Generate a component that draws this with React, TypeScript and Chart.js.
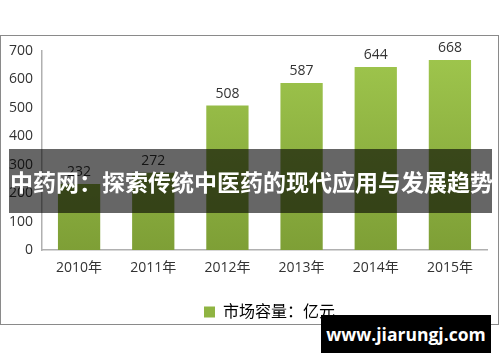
import React, { useEffect, useRef } from "react";
import { Chart, registerables } from "chart.js";

Chart.register(...registerables);

const categories = ["2010年", "2011年", "2012年", "2013年", "2014年", "2015年"];
const marketValues = [232, 272, 508, 587, 644, 668];
const seriesLabel = "市场容量：亿元";
const yTicks = [0, 100, 200, 300, 400, 500, 600, 700];
const bannerText = "中药网：探索传统中医药的现代应用与发展趋势";
const watermarkText = "www.jiarungj.com";

const FONT = '"Open Sans", "Noto Sans CJK SC", sans-serif';

const valueLabelPlugin = {
  id: "valueLabels",
  afterDatasetsDraw(chart: any) {
    const { ctx } = chart;
    const meta = chart.getDatasetMeta(0);
    ctx.save();
    ctx.font = `14px ${FONT}`;
    ctx.fillStyle = "#333";
    ctx.textAlign = "center";
    ctx.textBaseline = "bottom";
    meta.data.forEach((bar: any, i: number) => {
      ctx.fillText(String(marketValues[i]), bar.x, bar.y - 5);
    });
    ctx.restore();
  },
};

const legendShiftPlugin = {
  id: "legendShift",
  afterLayout(chart: any) {
    const lg = chart.legend;
    if (lg) {
      lg.left += 26;
      lg.right += 26;
    }
  },
};

export default function App() {
  const canvasRef = useRef<HTMLCanvasElement | null>(null);

  useEffect(() => {
    document.body.style.margin = "0";
    const canvas = canvasRef.current!;
    const chart = new Chart(canvas, {
      type: "bar",
      data: {
        labels: categories,
        datasets: [
          {
            label: seriesLabel,
            data: marketValues,
            backgroundColor: (c: any) => {
              const area = c.chart.chartArea;
              if (!area) return "#8fb442";
              const g = c.chart.ctx.createLinearGradient(0, area.top, 0, area.bottom);
              g.addColorStop(0, "#9fc64d");
              g.addColorStop(1, "#7e9f36");
              return g;
            },
            categoryPercentage: 1,
            barPercentage: 0.57,
          },
        ],
      },
      options: {
        animation: false,
        responsive: false,
        devicePixelRatio: 1,
        layout: { padding: { top: 51, right: 13, bottom: 32, left: 0 } },
        plugins: {
          legend: {
            position: "bottom",
            labels: {
              font: { family: FONT, size: 16 },
              color: "#333",
              boxWidth: 11,
              boxHeight: 11,
              padding: 10,
              generateLabels: () => [
                {
                  text: seriesLabel,
                  fillStyle: "#8fb442",
                  strokeStyle: "#8fb442",
                  lineWidth: 0,
                  hidden: false,
                  datasetIndex: 0,
                },
              ],
            },
          },
          tooltip: { enabled: false },
        },
        scales: {
          x: {
            grid: { display: false, drawTicks: false },
            border: { display: true, color: "#b0b0b0", width: 1.5 },
            ticks: { font: { family: FONT, size: 14 }, color: "#333", padding: 10 },
            afterFit: (s: any) => {
              s.height = 44;
            },
          },
          y: {
            min: 0,
            max: 700,
            grid: { display: false, drawTicks: false },
            border: { display: true, color: "#b0b0b0", width: 1.5 },
            afterBuildTicks: (s: any) => {
              s.ticks = yTicks.map((v) => ({ value: v }));
            },
            ticks: { font: { family: FONT, size: 14 }, color: "#333", padding: 9 },
            afterFit: (s: any) => {
              s.width = 42;
            },
          },
        },
      },
      plugins: [valueLabelPlugin, legendShiftPlugin],
    });
    return () => chart.destroy();
  }, []);

  return (
    <div style={{ position: "absolute", left: 0, top: 0, width: 500, height: 362, background: "#fff" }}>
      <canvas ref={canvasRef} width={500} height={362} style={{ position: "absolute", left: 0, top: 0 }} />
      <div
        style={{
          position: "absolute",
          left: 0,
          top: 35,
          width: 497,
          height: 288,
          border: "1.5px solid #8a8a8a",
          pointerEvents: "none",
        }}
      />
      <div
        style={{
          position: "absolute",
          left: 9,
          top: 149,
          width: 483,
          height: 64,
          background: "rgba(0,0,0,0.6)",
          color: "#fff",
          fontFamily: '"Noto Sans CJK SC", sans-serif',
          fontWeight: 700,
          fontSize: 23,
          lineHeight: "64px",
          whiteSpace: "nowrap",
          paddingLeft: 1,
          boxSizing: "border-box",
        }}
      >
        {bannerText}
      </div>
      <div
        style={{
          position: "absolute",
          left: 321,
          top: 315,
          width: 170,
          height: 38,
          background: "#000",
          color: "#fff",
          fontFamily: '"Open Sans", sans-serif',
          fontWeight: 700,
          fontSize: 17.5,
          lineHeight: "38px",
          textAlign: "center",
          whiteSpace: "nowrap",
        }}
      >
        {watermarkText}
      </div>
    </div>
  );
}
